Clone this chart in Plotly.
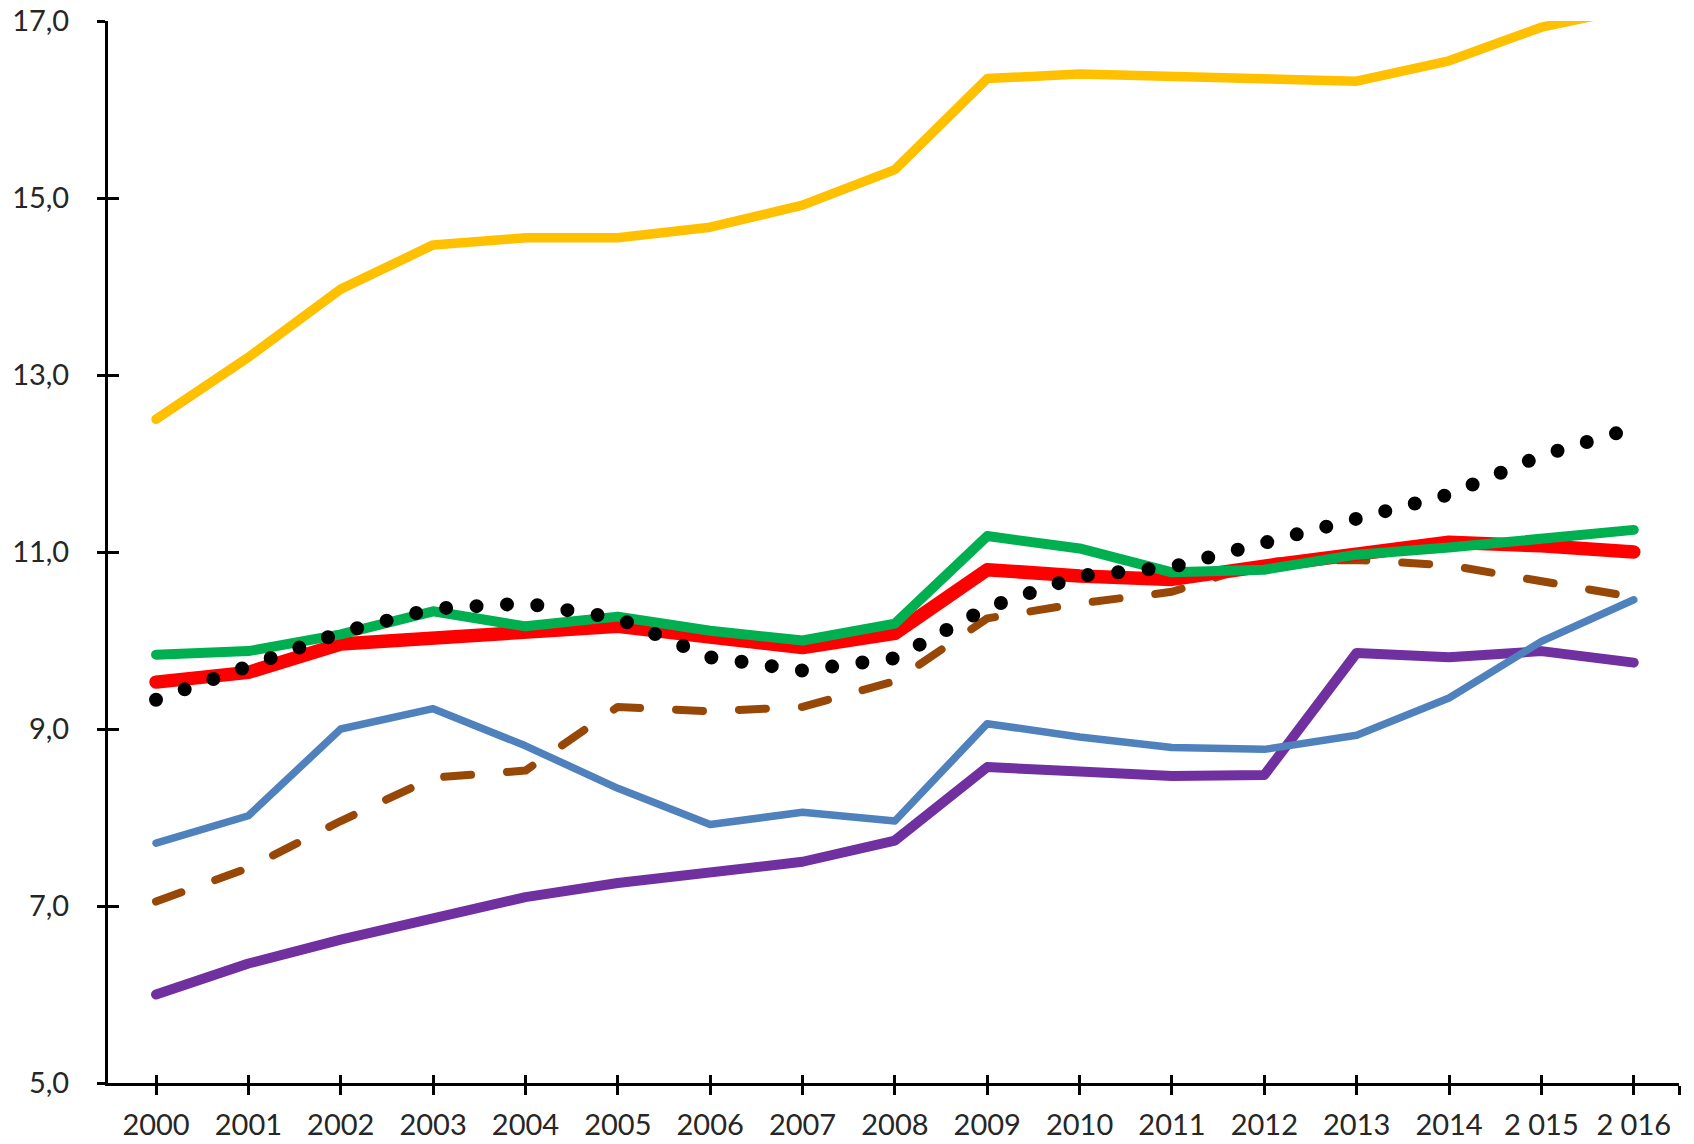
import plotly.graph_objects as go

# Years on the horizontal axis and their printed labels
years = list(range(2000, 2017))
year_labels = ["2000", "2001", "2002", "2003", "2004", "2005", "2006", "2007",
               "2008", "2009", "2010", "2011", "2012", "2013", "2014",
               "2\u00a0015", "2\u00a0016"]

# Vertical axis ticks
y_ticks = [5, 7, 9, 11, 13, 15, 17]
y_tick_labels = ["5,0", "7,0", "9,0", "11,0", "13,0", "15,0", "17,0"]

# Series values
yellow = [12.50, 13.20, 13.97, 14.47, 14.55, 14.55, 14.67, 14.92, 15.32,
          16.35, 16.40, 16.37, 16.36, 16.32, 16.55, 16.93, 17.15]
red = [9.53, 9.64, 9.96, 10.03, 10.12, 10.16, 10.04, 9.92, 10.08,
       10.80, 10.73, 10.69, 10.84, 10.96, 11.11, 11.07, 11.00]
green = [9.84, 9.88, 10.07, 10.33, 10.16, 10.27, 10.11, 10.00, 10.19,
         11.18, 11.04, 10.77, 10.80, 10.97, 11.05, 11.14, 11.25]
blue = [7.71, 8.02, 9.00, 9.23, 8.81, 8.33, 7.92, 8.06, 7.96,
        9.06, 8.91, 8.79, 8.77, 8.93, 9.35, 9.99, 10.46]
purple = [6.00, 6.35, 6.62, 6.87, 7.10, 7.26, 7.39, 7.50, 7.74,
          8.57, 8.52, 8.47, 8.48, 9.86, 9.81, 9.88, 9.75]
brown = [7.05, 7.43, 7.96, 8.45, 8.53, 9.25, 9.20, 9.25, 9.54,
         10.25, 10.42, 10.55, 10.89, 10.91, 10.85, 10.68, 10.49]
black = [9.33, 9.70, 10.09, 10.36, 10.42, 10.25, 9.81, 9.66, 9.80,
         10.37, 10.73, 10.83, 11.11, 11.38, 11.65, 12.09, 12.40]

x_lo, x_hi = 1999.48, 2016.49
tick_vals = years + [x_hi]
tick_text = year_labels + [""]

fig = go.Figure()

def add_line(values, color, width, dash="solid", axes=("x", "y")):
    fig.add_trace(go.Scatter(
        x=years, y=values, mode="lines",
        line=dict(color=color, width=width, dash=dash),
        xaxis=axes[0], yaxis=axes[1],
        showlegend=False, hoverinfo="skip",
    ))

add_line(purple, "#7030A0", 10)
add_line(blue, "#4F81BD", 7.5)
add_line(brown, "#974706", 8, dash="27px,36px")
add_line(yellow, "#FFC000", 9.5)
add_line(red, "#FF0000", 13.5)
add_line(green, "#00B050", 10)
add_line(black, "#000000", 14, dash="0px,30.5px", axes=("x2", "y2"))

tick_font = dict(family="Lato, Calibri, sans-serif", size=29, color="#262626")

fig.update_layout(
    width=1694, height=1144,
    margin=dict(l=108, r=15, t=21, b=61),
    paper_bgcolor="white", plot_bgcolor="white",
    showlegend=False,
    xaxis=dict(
        range=[x_lo, x_hi], tickmode="array", tickvals=tick_vals, ticktext=tick_text,
        showgrid=False, zeroline=False, showline=True, linecolor="black", linewidth=3,
        ticks="outside", ticklen=9, tickwidth=3, tickcolor="black",
        tickfont=tick_font, ticklabelstandoff=5, automargin=False,
    ),
    yaxis=dict(
        range=[5, 17], tickmode="array", tickvals=y_ticks, ticktext=y_tick_labels,
        showgrid=False, zeroline=False, showline=True, linecolor="black", linewidth=3,
        ticks="outside", ticklen=8, tickwidth=3, tickcolor="black",
        tickfont=tick_font, ticklabelstandoff=22, automargin=False,
    ),
    # companion axes give the inside half of the crossing tick marks
    xaxis2=dict(
        range=[x_lo, x_hi], overlaying="x", anchor="y2", side="bottom",
        tickmode="array", tickvals=tick_vals, showticklabels=False,
        showgrid=False, zeroline=False, showline=False,
        ticks="inside", ticklen=8, tickwidth=3, tickcolor="black", automargin=False,
    ),
    yaxis2=dict(
        range=[5, 17], overlaying="y", anchor="x2", side="left",
        tickmode="array", tickvals=y_ticks, showticklabels=False,
        showgrid=False, zeroline=False, showline=False,
        ticks="inside", ticklen=11, tickwidth=3, tickcolor="black", automargin=False,
    ),
)

# Rounded caps and joins on every line
post = """
var gd = document.getElementById('{plot_id}');
function roundLines() {
  gd.querySelectorAll('.scatterlayer .js-line').forEach(function (p) {
    p.style.strokeLinecap = 'round';
    p.style.strokeLinejoin = 'round';
  });
}
roundLines();
gd.on('plotly_afterplot', roundLines);
"""

fig.write_html("out.html", post_script=post)
